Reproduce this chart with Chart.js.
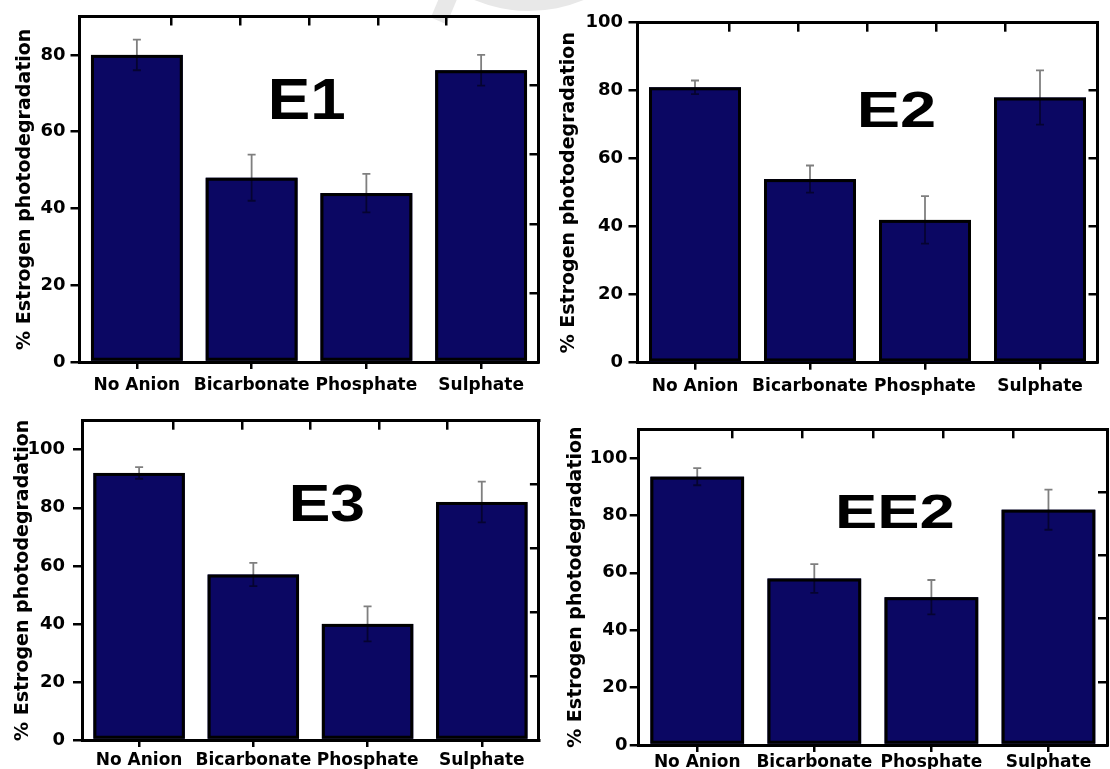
<!DOCTYPE html>
<html>
<head>
<meta charset="utf-8">
<title>Estrogen photodegradation with anions</title>
<script src="https://cdn.jsdelivr.net/npm/chart.js@4.4.1/dist/chart.umd.min.js"></script>
<style>
  html, body { margin: 0; padding: 0; background: #fff; }
  #wrap { position: relative; width: 1110px; height: 769px; overflow: hidden; background: #fff; }
  #wrap canvas { position: absolute; left: 0; top: 0; }
  /* faint grey page mark behind the top row */
  .mark { position: absolute; background: #e8e8e8; }
  .mark.disk { left: 386px; top: -275px; width: 286px; height: 286px; border-radius: 50%; }
  .mark.band { left: 436px; top: -8px; width: 17px; height: 30px; transform: rotate(23deg); }
</style>
</head>
<body>
<div id="wrap">
  <div class="mark disk"></div>
  <div class="mark band"></div>
  <canvas id="pE1" width="1110" height="769"></canvas>
  <canvas id="pE2" width="1110" height="769"></canvas>
  <canvas id="pE3" width="1110" height="769"></canvas>
  <canvas id="pEE2" width="1110" height="769"></canvas>
</div>
<script>
// ---- data ----
const CATEGORIES = ['No Anion', 'Bicarbonate', 'Phosphate', 'Sulphate'];
const PANEL_NAMES = ['E1', 'E2', 'E3', 'EE2'];

const E1_VALUES  = [80, 48, 44, 76];
const E1_ERRORS  = [4, 6, 5, 4];
const E2_VALUES  = [81, 54, 42, 78];
const E2_ERRORS  = [2, 4, 7, 8];
const E3_VALUES  = [92, 57, 40, 82];
const E3_ERRORS  = [2, 4, 6, 7];
const EE2_VALUES = [93.5, 58, 51.5, 82];
const EE2_ERRORS = [3, 5, 6, 7];

// axis ranges and tick values
const Y_MAX = [90, 100, 110, 110];
const Y_TICKS_E1  = [0, 20, 40, 60, 80];
const Y_TICKS_E2  = [0, 20, 40, 60, 80, 100];
const Y_TICKS_E3  = [0, 20, 40, 60, 80, 100];
const Y_TICKS_EE2 = [0, 20, 40, 60, 80, 100];
const RIGHT_TICKS_E1  = [18, 36, 54, 72];
const RIGHT_TICKS_E2  = [20, 40, 60, 80];
const RIGHT_TICKS_E3  = [22, 44, 66, 88];
const RIGHT_TICKS_EE2 = [22, 44, 66, 88];
const TOP_TICKS = [1, 2, 3, 4];   // minor frame ticks on a 0..5 top scale

const VALUES = [E1_VALUES, E2_VALUES, E3_VALUES, EE2_VALUES];
const ERRORS = [E1_ERRORS, E2_ERRORS, E3_ERRORS, EE2_ERRORS];
const Y_TICKS = [Y_TICKS_E1, Y_TICKS_E2, Y_TICKS_E3, Y_TICKS_EE2];
const RIGHT_TICKS = [RIGHT_TICKS_E1, RIGHT_TICKS_E2, RIGHT_TICKS_E3, RIGHT_TICKS_EE2];

// ---- layout & style ----
const FONT = "'DejaVu Sans', 'Liberation Sans', Arial, sans-serif";
const NAME_FONT = "'Liberation Sans', Arial, sans-serif";
const NAVY = '#0b0763';
const BAR_EDGE = 3;
const W = 1110, H = 769;

const LAYOUT = [
  { canvas: 'pE1',  frame: { l: 79.5,  t: 16.5,  r: 538.5,  b: 362 },   titleLeft: 13.3,  tickPad: 5,   catPad: 6,
    name: { fx: 0.495, fy: 0.2975, size: 58, sx: 1.1 } },
  { canvas: 'pE2',  frame: { l: 637.5, t: 22.7,  r: 1097.5, b: 362.7 }, titleLeft: 557.3, tickPad: 5.5, catPad: 7,
    name: { fx: 0.563, fy: 0.306, size: 50, sx: 1.3 } },
  { canvas: 'pE3',  frame: { l: 82,    t: 420.7, r: 538.9,  b: 740 },   titleLeft: 11.6,  tickPad: 8,   catPad: 3,
    name: { fx: 0.536, fy: 0.313, size: 52, sx: 1.2 } },
  { canvas: 'pEE2', frame: { l: 638.7, t: 429.3, r: 1107,   b: 745 },   titleLeft: 564.6, tickPad: 2.3, catPad: 0,
    name: { fx: 0.547, fy: 0.312, size: 48, sx: 1.32 } }
];

// black bar outlines, then error bars, drawn over the filled bars
const errorBarPlugin = {
  id: 'errorBars',
  afterDatasetsDraw(chart, args, opts) {
    const ds = chart.data.datasets[0];
    const meta = chart.getDatasetMeta(0);
    const ys = chart.scales.y;
    const ctx = chart.ctx;
    const cap = opts.cap;
    ctx.save();
    // outlines
    ctx.strokeStyle = '#000';
    ctx.lineWidth = BAR_EDGE;
    meta.data.forEach(bar => {
      const { x, y, base, width } = bar.getProps(['x', 'y', 'base', 'width'], true);
      const h = BAR_EDGE / 2;
      ctx.strokeRect(x - width / 2 + h, y + h, width - BAR_EDGE, base - y - BAR_EDGE);
    });
    // error bars
    ctx.strokeStyle = opts.color;
    ctx.lineWidth = opts.width;
    meta.data.forEach((bar, i) => {
      const v = ds.data[i], e = ds.errors[i];
      const top = ys.getPixelForValue(v + e);
      const bot = ys.getPixelForValue(v - e);
      const x = bar.x;
      ctx.beginPath();
      ctx.moveTo(x, top); ctx.lineTo(x, bot);
      ctx.moveTo(x - cap, top); ctx.lineTo(x + cap, top);
      ctx.moveTo(x - cap, bot); ctx.lineTo(x + cap, bot);
      ctx.stroke();
    });
    ctx.restore();
  }
};

// big compound name inside each panel
function namePlugin(idx) {
  const n = LAYOUT[idx].name;
  return {
    id: 'panelName',
    afterDraw(chart) {
      const a = chart.chartArea;
      const ctx = chart.ctx;
      const x = a.left + n.fx * (a.right - a.left);
      const y = a.top + n.fy * (a.bottom - a.top);
      ctx.save();
      ctx.translate(x, y);
      ctx.scale(n.sx, 1);
      ctx.font = 'bold ' + n.size + 'px ' + NAME_FONT;
      ctx.fillStyle = '#000';
      ctx.textAlign = 'center';
      ctx.textBaseline = 'alphabetic';
      ctx.fillText(PANEL_NAMES[idx], 0, 0);
      ctx.restore();
    }
  };
}

const frameBorder = { display: true, color: '#000', width: 3 };

function buildPanel(idx) {
  const p = LAYOUT[idx];
  const f = p.frame;
  const yAxisWidth = f.l - p.titleLeft;
  const xAxisHeight = Math.min(40, H - f.b);

  new Chart(document.getElementById(p.canvas), {
    type: 'bar',
    data: {
      labels: CATEGORIES,
      datasets: [{
        data: VALUES[idx],
        errors: ERRORS[idx],
        backgroundColor: NAVY,
        borderWidth: 0,
        barPercentage: 0.8,
        categoryPercentage: 1.0
      }]
    },
    options: {
      responsive: false,
      animation: false,
      devicePixelRatio: 1,
      events: [],
      layout: { padding: { left: p.titleLeft, top: f.t, right: W - f.r, bottom: H - f.b - xAxisHeight } },
      plugins: {
        legend: { display: false },
        tooltip: { enabled: false },
        errorBars: { color: 'rgba(0,0,0,0.5)', width: 1.8, cap: 4 }
      },
      scales: {
        x: {
          type: 'category',
          position: 'bottom',
          offset: true,
          grid: { display: true, offset: false, drawOnChartArea: false, drawTicks: true, tickLength: 7, color: '#000', lineWidth: 2.5 },
          border: frameBorder,
          ticks: { color: '#000', font: { family: FONT, size: 17, weight: 'bold' }, padding: p.catPad,
                   maxRotation: 0, minRotation: 0, autoSkip: false },
          afterFit(s) { s.height = xAxisHeight; }
        },
        x2: {
          type: 'linear',
          position: 'top',
          min: 0, max: 5,
          afterBuildTicks(s) { s.ticks = TOP_TICKS.map(v => ({ value: v })); },
          ticks: { display: false },
          grid: { display: true, drawOnChartArea: false, drawTicks: true, tickLength: -9, color: '#000', lineWidth: 2.5 },
          border: frameBorder,
          afterFit(s) { s.height = 0; }
        },
        y: {
          type: 'linear',
          position: 'left',
          min: 0, max: Y_MAX[idx],
          afterBuildTicks(s) { s.ticks = Y_TICKS[idx].map(v => ({ value: v })); },
          ticks: { color: '#000', font: { family: FONT, size: 18, weight: 'bold' }, padding: p.tickPad },
          grid: { display: true, drawOnChartArea: false, drawTicks: true, tickLength: 9, color: '#000', lineWidth: 2.5 },
          border: frameBorder,
          title: { display: true, text: '% Estrogen photodegradation', color: '#000',
                   font: { family: FONT, size: 19, weight: 'bold' }, padding: 0 },
          afterFit(s) { s.width = yAxisWidth; }
        },
        y2: {
          type: 'linear',
          position: 'right',
          min: 0, max: Y_MAX[idx],
          afterBuildTicks(s) { s.ticks = RIGHT_TICKS[idx].map(v => ({ value: v })); },
          ticks: { display: false },
          grid: { display: true, drawOnChartArea: false, drawTicks: true, tickLength: -9, color: '#000', lineWidth: 2.5 },
          border: frameBorder,
          afterFit(s) { s.width = 0; }
        }
      }
    },
    plugins: [errorBarPlugin, namePlugin(idx)]
  });
}

LAYOUT.forEach((_, i) => buildPanel(i));
</script>
</body>
</html>
